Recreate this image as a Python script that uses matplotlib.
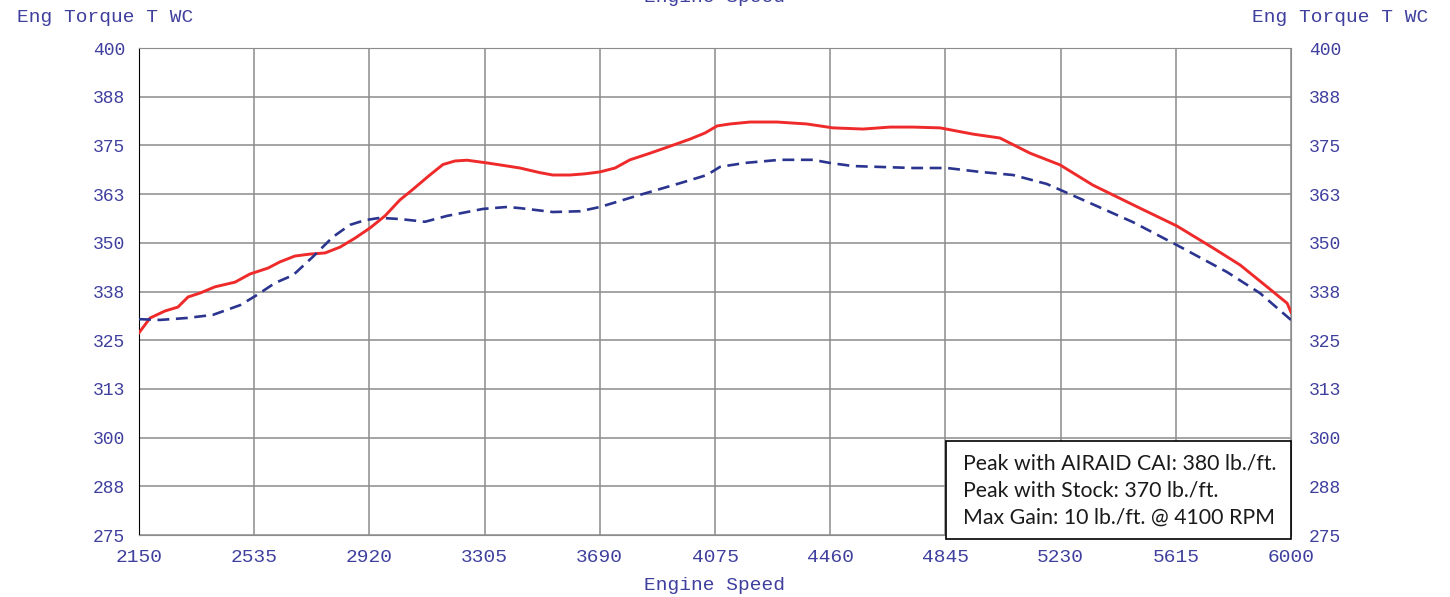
import matplotlib
matplotlib.use("Agg")
import matplotlib.pyplot as plt
from matplotlib.patches import Rectangle
import numpy as np

# dyno readings
airaid_rpm = [2150, 2187, 2237, 2280, 2314, 2354, 2404, 2471, 2521, 2581, 2621, 2671,
              2721, 2772, 2822, 2872, 2922, 2972, 3022, 3062, 3122, 3166, 3206, 3246,
              3313, 3356, 3423, 3490, 3533, 3590, 3640, 3691, 3741, 3791, 3858, 3925,
              3991, 4042, 4082, 4125, 4192, 4282, 4382, 4469, 4570, 4660, 4737, 4827,
              4937, 5027, 5128, 5228, 5338, 5495, 5619, 5739, 5830, 5920, 5987, 6000]
airaid_tq = [326.9, 330.7, 332.5, 333.5, 336.1, 337.1, 338.7, 339.9, 342.0, 343.5, 345.1, 346.6,
             347.1, 347.4, 348.9, 351.2, 353.8, 356.9, 361.0, 363.5, 367.4, 370.1, 371.0, 371.2,
             370.5, 370.0, 369.2, 368.0, 367.4, 367.4, 367.7, 368.2, 369.2, 371.3, 373.0, 374.8,
             376.6, 378.2, 380.0, 380.5, 381.0, 381.0, 380.5, 379.5, 379.2, 379.7, 379.7, 379.5,
             377.9, 376.9, 373.0, 370.0, 364.8, 358.9, 354.3, 348.7, 344.3, 338.7, 334.5, 332.2]

stock_rpm = [2150, 2220, 2310, 2397, 2488, 2538, 2605, 2665, 2731, 2798, 2855, 2905,
             2955, 3022, 3106, 3179, 3300, 3380, 3423, 3533, 3624, 3691, 3824, 3958,
             4048, 4092, 4175, 4292, 4402, 4459, 4536, 4737, 4850, 4961, 5071, 5184,
             5305, 5472, 5619, 5786, 5896, 6000]
stock_tq = [330.4, 330.2, 330.7, 331.5, 334.0, 336.3, 339.7, 341.7, 346.4, 351.5, 354.6, 355.8,
            356.4, 356.1, 355.4, 356.9, 358.7, 359.2, 358.9, 357.9, 358.1, 359.2, 362.3, 365.3,
            367.4, 369.5, 370.5, 371.3, 371.3, 370.5, 369.7, 369.2, 369.2, 368.2, 367.4, 365.1,
            361.0, 355.3, 349.4, 342.5, 337.1, 330.2]

x_ticks = [2150, 2535, 2920, 3305, 3690, 4075, 4460, 4845, 5230, 5615, 6000]
y_ticks = np.arange(275, 400.1, 12.5)
y_labels = ['275', '288', '300', '313', '325', '338', '350', '363', '375', '388', '400']

summary = ['Peak with AIRAID CAI: 380 lb./ft.',
           'Peak with Stock: 370 lb./ft.',
           'Max Gain: 10 lb./ft. @ 4100 RPM']

W, H = 1450, 597
txt_col = '#3f3f9e'
mono = 'Liberation Mono'

fig = plt.figure(figsize=(W/100, H/100), dpi=100)
ax = fig.add_axes([139/W, 1-535/H, (1291-139)/W, (535-48)/H])

ax.plot(airaid_rpm, airaid_tq, color='#ee2a2a', lw=2.1, zorder=3)
ax.plot(stock_rpm, stock_tq, color='#2b3590', lw=1.9, dashes=(4.5, 2.5), zorder=3)

ax.set_xlim(2150, 6000)
ax.set_ylim(275, 400)
ax.set_xticks(x_ticks)
ax.set_xticklabels([str(v) for v in x_ticks], family=mono, fontsize=14, color=txt_col)
ax.set_yticks(y_ticks)
ax.set_yticklabels(y_labels, family=mono, fontsize=13, color=txt_col)
ax.tick_params(length=0)
ax.tick_params(axis='x', pad=10)
ax.tick_params(axis='y', pad=10)
ax.grid(True, color='#8c8c8c', lw=1.1)
for s in ['top', 'right', 'bottom']:
    ax.spines[s].set_color('#8c8c8c')
ax.spines['left'].set_color('black')

# right-hand copy of the torque scale
ax2 = ax.twinx()
ax2.set_ylim(275, 400)
ax2.set_yticks(y_ticks)
ax2.set_yticklabels(y_labels, family=mono, fontsize=13, color=txt_col)
ax2.tick_params(length=0, pad=13)
for s in ax2.spines.values():
    s.set_visible(False)

fig.text(105/W, 1-17/H, 'Eng Torque T WC', family=mono, fontsize=14, color=txt_col,
         ha='center', va='center')
fig.text(1340/W, 1-17/H, 'Eng Torque T WC', family=mono, fontsize=14, color=txt_col,
         ha='center', va='center')
fig.text(715/W, 1-586/H, 'Engine Speed', family=mono, fontsize=14, color=txt_col,
         ha='center', va='center')
# top copy of the axis title sits mostly above the canvas, as in the source
fig.text(715/W, 1+3/H, 'Engine Speed', family=mono, fontsize=14, color=txt_col,
         ha='center', va='center')

# summary box
fig.patches.append(Rectangle((946/W, 1-539/H), 345/W, 98/H, transform=fig.transFigure,
                             facecolor='white', edgecolor='black', lw=1.2, zorder=5))
for i, line in enumerate(summary):
    fig.text(963/W, 1-(463+27.5*i)/H, line, family='Lato', fontsize=15.3, color='#1a1a1a',
             ha='left', va='center', zorder=6)

fig.savefig('out.png', dpi=100)
